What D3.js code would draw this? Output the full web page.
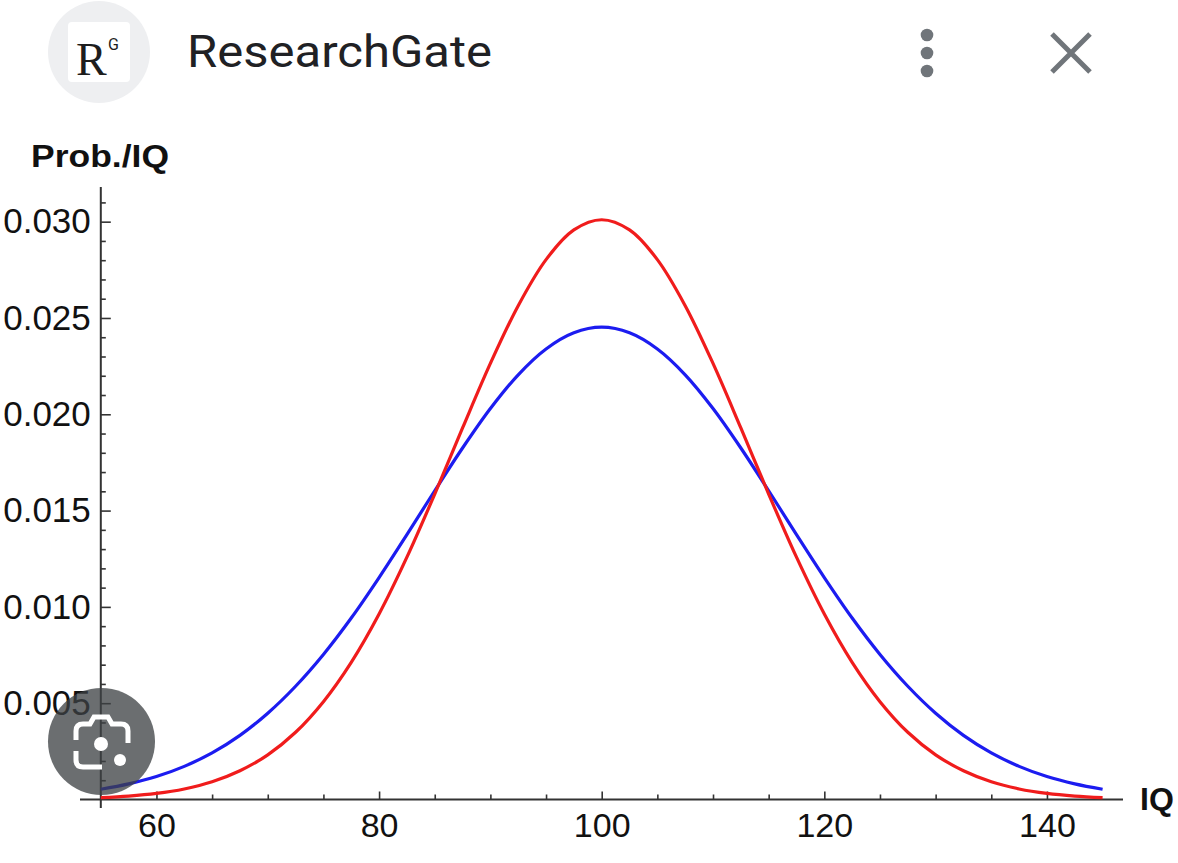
<!DOCTYPE html>
<html>
<head>
<meta charset="utf-8">
<script src="https://cdn.jsdelivr.net/npm/d3@7"></script>
<style>
  html, body { margin: 0; padding: 0; background: #fff; }
  svg { display: block; }
</style>
</head>
<body>
<script>
const W = 1178, H = 863

// IQ sample points and the two curves
const iq = [55, 57.5, 60, 62.5, 65, 67.5, 70, 72.5, 75, 77.5, 80, 82.5, 85, 87.5, 90, 92.5, 95, 97.5,
  100, 102.5, 105, 107.5, 110, 112.5, 115, 117.5, 120, 122.5, 125, 127.5, 130, 132.5, 135, 137.5, 140, 142.5, 145]
const redProb = [0.000094, 0.000176, 0.000316, 0.000548, 0.000919, 0.00149, 0.00232, 0.00349, 0.00508, 0.00712,
  0.00963, 0.01258, 0.01586, 0.01929, 0.02264, 0.02564, 0.02803, 0.02957, 0.03010,
  0.02957, 0.02803, 0.02564, 0.02264, 0.01929, 0.01586, 0.01258, 0.00963, 0.00712, 0.00508, 0.00349,
  0.00232, 0.00149, 0.000919, 0.000548, 0.000316, 0.000176, 0.000094]
const blueProb = [0.00053, 0.00081, 0.00119, 0.00172, 0.00242, 0.00333, 0.00448, 0.00588, 0.00753, 0.00942,
  0.01152, 0.01375, 0.01603, 0.01825, 0.02030, 0.02205, 0.02339, 0.02423, 0.02452,
  0.02423, 0.02339, 0.02205, 0.02030, 0.01825, 0.01603, 0.01375, 0.01152, 0.00942, 0.00753, 0.00588,
  0.00448, 0.00333, 0.00242, 0.00172, 0.00119, 0.00081, 0.00053]

// tick values
const xMajor = [60, 80, 100, 120, 140]
const xMinor = [65, 70, 75, 85, 90, 95, 105, 110, 115, 125, 130, 135]
const yMajor = [0.005, 0.010, 0.015, 0.020, 0.025, 0.030]
const yMinor = [0.001, 0.002, 0.003, 0.004, 0.006, 0.007, 0.008, 0.009, 0.011, 0.012, 0.013, 0.014,
  0.016, 0.017, 0.018, 0.019, 0.021, 0.022, 0.023, 0.024, 0.026, 0.027, 0.028, 0.029, 0.031]

let svg = d3.select('body').append('svg')
  .attr('width', W)
  .attr('height', H)

svg.append('rect').attr('width', W).attr('height', H).attr('fill', '#fff')

// ---- header bar ----
let header = svg.append('g').attr('id', 'header')
header.append('circle').attr('cx', 99).attr('cy', 52).attr('r', 51).attr('fill', '#eeeff1')
header.append('rect').attr('x', 68).attr('y', 22).attr('width', 62).attr('height', 60).attr('rx', 4).attr('fill', '#fff')
header.append('text').attr('x', 76).attr('y', 75)
  .style('font-family', '"Liberation Serif", serif').style('font-size', '46px').attr('fill', '#1d1d1d')
  .text('R')
header.append('text').attr('x', 108).attr('y', 50)
  .style('font-family', 'Roboto, sans-serif').style('font-size', '16px').attr('fill', '#1d1d1d')
  .text('G')
header.append('text').attr('x', 187).attr('y', 67)
  .attr('textLength', 305).attr('lengthAdjust', 'spacingAndGlyphs')
  .style('font-family', 'Roboto, sans-serif').style('font-size', '45px').attr('fill', '#202124')
  .text('ResearchGate')

header.selectAll('circle.dot').data([35, 53, 71]).join('circle')
  .attr('class', 'dot').attr('cx', 927).attr('cy', d => d).attr('r', 6.3).attr('fill', '#70757a')
header.append('path')
  .attr('d', 'M1052,34L1090,72M1090,34L1052,72')
  .attr('stroke', '#70757a').attr('stroke-width', 5).attr('fill', 'none')

// ---- plot ----
let x = d3.scaleLinear().domain([55, 145]).range([100.8, 1102.6])
let y = d3.scaleLinear().domain([0, 0.0318]).range([799.5, 187])

let plot = svg.append('g').attr('id', 'plot')
const axisColor = '#333'
const labelFont = '"Liberation Sans", Arial, sans-serif'

// axis lines (Mathematica style, a little past the origin)
plot.append('line').attr('x1', 80).attr('x2', 1123).attr('y1', y(0)).attr('y2', y(0))
  .attr('stroke', axisColor).attr('stroke-width', 2)
plot.append('line').attr('x1', x(55)).attr('x2', x(55)).attr('y1', 808).attr('y2', y(0.0318))
  .attr('stroke', axisColor).attr('stroke-width', 2)

function styleAxis(g) {
  g.select('.domain').remove()
  g.selectAll('line').attr('stroke', axisColor).attr('stroke-width', 1.6)
  g.selectAll('text').attr('fill', '#111').style('font-family', labelFont)
}

plot.append('g').attr('transform', `translate(0,${y(0)})`)
  .call(d3.axisBottom(x).tickValues(xMajor).tickSize(-8).tickPadding(13).tickFormat(d3.format('d')))
  .call(styleAxis)
  .selectAll('text').style('font-size', '34px')
plot.append('g').attr('transform', `translate(0,${y(0)})`)
  .call(d3.axisBottom(x).tickValues(xMinor).tickSize(-5).tickFormat(''))
  .call(styleAxis)

plot.append('g').attr('transform', `translate(${x(55)},0)`)
  .call(d3.axisLeft(y).tickValues(yMajor).tickSize(-10).tickPadding(10).tickFormat(d3.format('.3f')))
  .call(styleAxis)
  .selectAll('text').style('font-size', '35px')
plot.append('g').attr('transform', `translate(${x(55)},0)`)
  .call(d3.axisLeft(y).tickValues(yMinor).tickSize(-5).tickFormat(''))
  .call(styleAxis)

// axis titles
plot.append('text').attr('x', 31).attr('y', 167)
  .attr('textLength', 138).attr('lengthAdjust', 'spacingAndGlyphs')
  .style('font-family', labelFont).style('font-weight', 'bold').style('font-size', '32px').attr('fill', '#111')
  .text('Prob./IQ')
plot.append('text').attr('x', 1140).attr('y', 810)
  .style('font-family', labelFont).style('font-weight', 'bold').style('font-size', '32px').attr('fill', '#111')
  .text('IQ')

// curves
let line = d3.line().x(d => x(d.iq)).y(d => y(d.p)).curve(d3.curveCatmullRom)
let series = [
  { name: 'wide', color: '#1c1cf0', values: iq.map((v, i) => ({ iq: v, p: blueProb[i] })) },
  { name: 'narrow', color: '#f01c1c', values: iq.map((v, i) => ({ iq: v, p: redProb[i] })) }
]
plot.selectAll('path.curve').data(series).join('path')
  .attr('class', 'curve')
  .attr('d', d => line(d.values))
  .attr('fill', 'none')
  .attr('stroke', d => d.color)
  .attr('stroke-width', 3.2)

// ---- lens button overlay ----
let lens = svg.append('g').attr('id', 'lens')
lens.append('circle').attr('cx', 101.5).attr('cy', 741.5).attr('r', 53.5).attr('fill', 'rgba(60,64,67,0.76)')
lens.append('path')
  .attr('d', 'M76,740V731Q76,724 83,724H90L94,717H108L112,724H121Q128,724 128,731V743' +
    'M76,751V760Q76,767 83,767H102')
  .attr('fill', 'none').attr('stroke', '#fff').attr('stroke-width', 5)
lens.append('circle').attr('cx', 101).attr('cy', 744).attr('r', 7).attr('fill', '#fff')
lens.append('circle').attr('cx', 120).attr('cy', 760).attr('r', 6).attr('fill', '#fff')
</script>
</body>
</html>
